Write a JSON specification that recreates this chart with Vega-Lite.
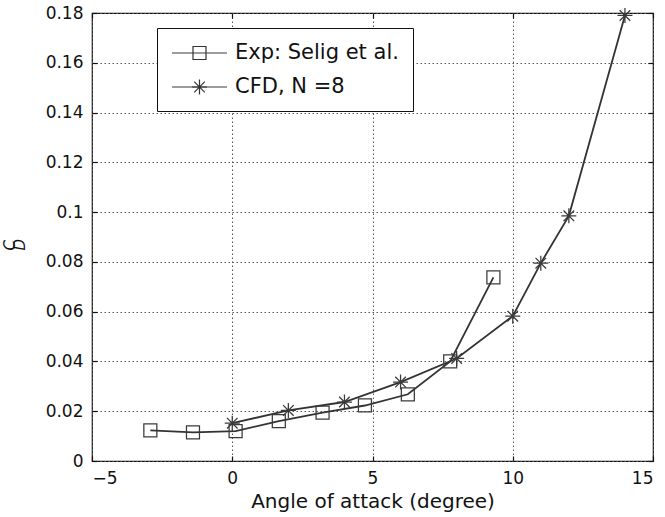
{
  "$schema": "https://vega.github.io/schema/vega-lite/v6.json",
  "width": 561,
  "height": 448,
  "autosize": {"type": "none"},
  "padding": {"left": 92, "top": 13, "right": 12, "bottom": 56},
  "background": "white",
  "config": {
    "font": "DejaVu Sans",
    "view": {"stroke": "#111", "strokeWidth": 1.2},
    "axis": {
      "domain": false,
      "gridColor": "#555",
      "gridDash": [1.5, 2.5],
      "gridWidth": 1,
      "gridOpacity": 1,
      "tickColor": "#111",
      "tickSize": -5,
      "tickWidth": 1.2,
      "labelFontSize": 17,
      "labelColor": "#111",
      "labelPadding": 14,
      "titleFontSize": 20,
      "titleFontWeight": "normal",
      "titleColor": "#111"
    },
    "legend": {
      "title": null,
      "orient": "none",
      "legendX": 65,
      "legendY": 15,
      "padding": 14,
      "strokeColor": "#111",
      "fillColor": "white",
      "labelFontSize": 21,
      "labelColor": "#111",
      "labelOffset": 42,
      "labelLimit": 500,
      "rowPadding": 13,
      "symbolStrokeWidth": 1.2,
      "symbolFillColor": "transparent",
      "symbolSize": 400
    }
  },
  "data": {
    "values": [
      {"series": "Exp: Selig et al.", "alpha": -2.92, "cd": 0.0123},
      {"series": "Exp: Selig et al.", "alpha": -1.4, "cd": 0.0115},
      {"series": "Exp: Selig et al.", "alpha": 0.12, "cd": 0.012},
      {"series": "Exp: Selig et al.", "alpha": 1.66, "cd": 0.016},
      {"series": "Exp: Selig et al.", "alpha": 3.22, "cd": 0.0194},
      {"series": "Exp: Selig et al.", "alpha": 4.73, "cd": 0.0223},
      {"series": "Exp: Selig et al.", "alpha": 6.26, "cd": 0.0268},
      {"series": "Exp: Selig et al.", "alpha": 7.77, "cd": 0.040},
      {"series": "Exp: Selig et al.", "alpha": 9.31, "cd": 0.0738},
      {"series": "CFD, N =8", "alpha": 0, "cd": 0.0152},
      {"series": "CFD, N =8", "alpha": 2, "cd": 0.0203},
      {"series": "CFD, N =8", "alpha": 4, "cd": 0.0237},
      {"series": "CFD, N =8", "alpha": 6, "cd": 0.0317},
      {"series": "CFD, N =8", "alpha": 8, "cd": 0.0412},
      {"series": "CFD, N =8", "alpha": 10, "cd": 0.0582},
      {"series": "CFD, N =8", "alpha": 11, "cd": 0.0795},
      {"series": "CFD, N =8", "alpha": 12, "cd": 0.0985},
      {"series": "CFD, N =8", "alpha": 14, "cd": 0.179}
    ]
  },
  "layer": [
    {
      "mark": {"type": "line", "stroke": "#333", "strokeWidth": 1.8},
      "encoding": {
        "x": {
          "field": "alpha", "type": "quantitative",
          "scale": {"domain": [-5, 15], "nice": false, "zero": false},
          "axis": {
            "title": "Angle of attack (degree)",
            "values": [-5, 0, 5, 10, 15],
            "grid": true,
            "titlePadding": 5
          }
        },
        "y": {
          "field": "cd", "type": "quantitative",
          "scale": {"domain": [0, 0.18], "nice": false, "zero": false},
          "axis": {
            "title": ["C", "\u00a0\u00a0D"],
            "titleFontStyle": "italic",
            "titleFontSize": 15,
            "titleAlign": "left",
            "titleBaseline": "alphabetic",
            "titleLineHeight": 10,
            "titleX": -78,
            "titleY": 237,
            "format": "~g",
            "values": [0, 0.02, 0.04, 0.06, 0.08, 0.1, 0.12, 0.14, 0.16, 0.18],
            "grid": true
          }
        },
        "detail": {"field": "series"}
      }
    },
    {
      "mark": {"type": "point", "filled": false, "strokeWidth": 1.25, "size": 400, "opacity": 1},
      "encoding": {
        "x": {
          "field": "alpha", "type": "quantitative",
          "scale": {"domain": [-5, 15], "nice": false, "zero": false},
          "axis": {"orient": "top", "grid": false, "labels": false, "title": null, "values": [-5, 0, 5, 10, 15]}
        },
        "y": {
          "field": "cd", "type": "quantitative",
          "scale": {"domain": [0, 0.18], "nice": false, "zero": false},
          "axis": {"orient": "right", "grid": false, "labels": false, "title": null, "values": [0, 0.02, 0.04, 0.06, 0.08, 0.1, 0.12, 0.14, 0.16, 0.18]}
        },
        "shape": {
          "field": "series", "type": "nominal",
          "scale": {
            "range": [
              "M-0.75,0H0.75M0,-0.75V0.75M-0.53,-0.53L0.53,0.53M-0.53,0.53L0.53,-0.53",
              "M-0.65,-0.65H0.65V0.65H-0.65Z"
            ]
          },
          "legend": {
            "values": ["Exp: Selig et al.", "CFD, N =8"],
            "fillColor": "transparent",
            "strokeColor": "transparent",
            "labelOpacity": 0,
            "symbolOffset": 17.5,
            "symbolStrokeColor": "#333",
            "zindex": 2
          }
        },
        "stroke": {
          "field": "series", "type": "nominal",
          "scale": {
            "domain": ["Exp: Selig et al.", "CFD, N =8"],
            "range": ["#3a3a3a", "#3a3a3a"]
          },
          "legend": {
            "symbolType": "M-1,0H4.5",
            "zindex": 1
          }
        }
      }
    }
  ],
  "resolve": {"axis": {"x": "independent", "y": "independent"}}
}
